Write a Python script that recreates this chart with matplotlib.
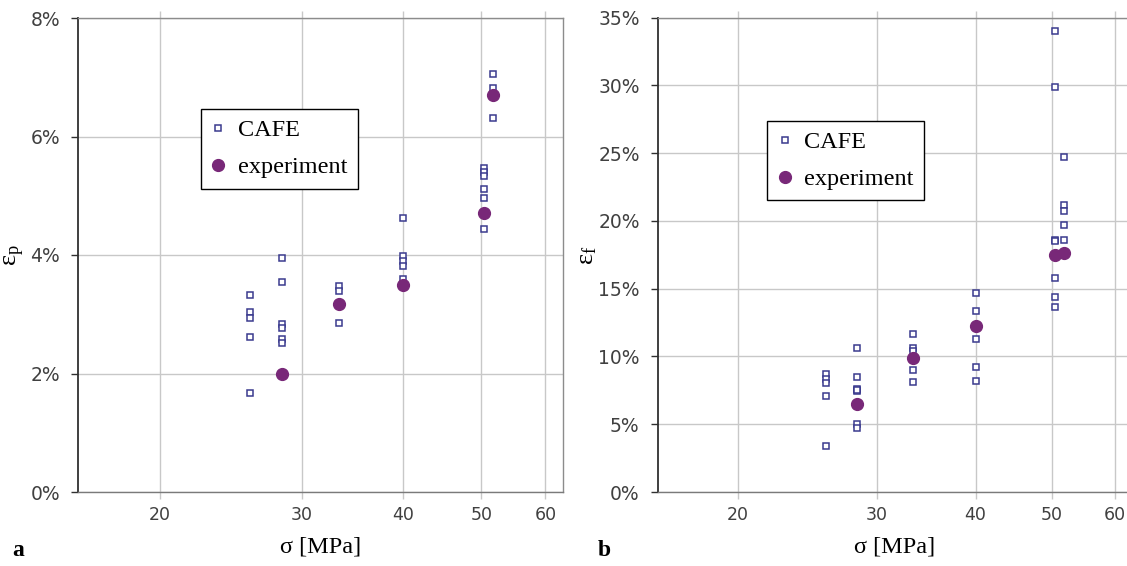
import matplotlib
matplotlib.use("Agg")
import matplotlib.pyplot as plt
from matplotlib.ticker import FixedLocator, FuncFormatter, NullLocator

# ---------------- data ----------------
# stress levels (MPa)
sigma_cafe_p = [25.9]*5 + [28.3]*6 + [33.3]*3 + [40.0]*5 + [50.4]*6 + [51.7]*3
eps_p_cafe = [3.32, 3.03, 2.93, 2.62, 1.67,
              3.95, 3.54, 2.83, 2.77, 2.58, 2.52,
              3.47, 3.40, 2.85,
              4.63, 3.98, 3.90, 3.82, 3.60,
              5.46, 5.40, 5.33, 5.11, 4.97, 4.44,
              7.05, 6.82, 6.31]
sigma_exp = [28.3, 33.3, 40.0, 50.4, 51.7]
eps_p_exp = [2.00, 3.17, 3.49, 4.71, 6.70]

sigma_cafe_f = [25.9]*5 + [28.3]*7 + [33.3]*5 + [40.0]*5 + [50.4]*7 + [51.7]*5
eps_f_cafe = [8.69, 8.34, 8.02, 7.08, 3.37,
              10.60, 8.49, 7.60, 7.45, 5.05, 4.75, 7.50,
              11.64, 10.65, 10.40, 9.00, 8.10,
              14.66, 13.33, 11.32, 9.20, 8.19,
              34.00, 29.90, 18.60, 15.77, 14.40, 13.65, 18.55,
              24.75, 21.20, 20.76, 19.70, 18.60]
eps_f_exp = [6.47, 9.91, 12.25, 17.50, 17.65]

x_ticks = [20, 30, 40, 50, 60]
y_ticks_p = [0, 2, 4, 6, 8]
y_ticks_f = [0, 5, 10, 15, 20, 25, 30, 35]

SQ_COLOR = "#3a3a8e"
EXP_COLOR = "#782878"
GRID = "#c8c8c8"

W, H = 1127, 566
fig = plt.figure(figsize=(W/100, H/100), dpi=100)
plt.rcParams['mathtext.fontset'] = 'custom'
plt.rcParams['mathtext.rm'] = 'Liberation Serif'
plt.rcParams['mathtext.it'] = 'Liberation Serif:italic'

def px_axes(x0, x1, ytop, ybot):
    return fig.add_axes([x0/W, 1-ybot/H, (x1-x0)/W, (ybot-ytop)/H])

axL = px_axes(78, 563, 18, 492)
axR = px_axes(657.7, 1132, 17.7, 492)

def style(ax, yticks, ymax, cafe_x, cafe_y, exp_x, exp_y, ylabel, ylab_x,
          leg_anchor, panel, panel_x):
    ax.set_xscale('log')
    ax.set_xlim(10**1.2, 10**1.8)
    ax.set_ylim(0, ymax)
    ax.xaxis.set_major_locator(FixedLocator(x_ticks))
    ax.xaxis.set_minor_locator(NullLocator())
    ax.xaxis.set_major_formatter(FuncFormatter(lambda v, p: f"{v:.0f}"))
    ax.yaxis.set_major_locator(FixedLocator(yticks))
    ax.yaxis.set_major_formatter(FuncFormatter(lambda v, p: f"{v:.0f}%"))
    ax.grid(True, color=GRID, linewidth=1.0)
    ax.set_axisbelow(True)
    for s in ['top', 'right']:
        ax.spines[s].set_color('#8c8c8c')
        ax.spines[s].set_linewidth(1.0)
    ax.spines['left'].set_color('#303030')
    ax.spines['left'].set_linewidth(1.3)
    ax.spines['bottom'].set_color('#7a7a7a')
    ax.spines['bottom'].set_linewidth(1.0)
    ax.tick_params(axis='x', which='major', top=True, bottom=True, direction='out',
                   length=5, width=1.0, color=GRID, pad=5, labelsize=12.5, labelcolor='#404040')
    ax.tick_params(axis='y', which='major', direction='out', length=5, width=1.0,
                   color='#303030', pad=8, labelsize=13.5, labelcolor='#404040')
    for t in ax.get_xticklabels() + ax.get_yticklabels():
        t.set_fontfamily('DejaVu Sans')
    ax.plot(cafe_x, cafe_y, linestyle='none', marker='s', markersize=5,
            markerfacecolor='white', markeredgecolor=SQ_COLOR, markeredgewidth=1.1,
            label='CAFE', zorder=3)
    ax.plot(exp_x, exp_y, linestyle='none', marker='o', markersize=8.5,
            markerfacecolor=EXP_COLOR, markeredgecolor=EXP_COLOR,
            label='experiment', zorder=4)
    ax.set_xlabel('σ [MPa]', fontfamily='Liberation Serif', fontsize=17.5)
    ax.xaxis.set_label_coords(0.5, -0.093)
    ax.set_ylabel(ylabel, fontsize=19)
    ax.yaxis.set_label_coords(ylab_x, 0.5)
    leg = ax.legend(loc='upper left', bbox_to_anchor=leg_anchor, frameon=True,
                    fancybox=False, edgecolor='black', framealpha=1,
                    prop={'family': 'Liberation Serif', 'size': 17.5},
                    handlelength=0.6, handletextpad=0.5, borderpad=0.42,
                    labelspacing=0.62, borderaxespad=0)
    leg.get_frame().set_linewidth(1.0)
    fig.text(panel_x/W, 1-550/H, panel, fontfamily='Liberation Serif',
             fontsize=17, fontweight='bold', ha='left', va='center')

style(axL, y_ticks_p, 8, sigma_cafe_p, eps_p_cafe, sigma_exp, eps_p_exp,
      r'$\mathrm{ε_p}$', -0.105, (0.2536, 0.808), 'a', 12)
style(axR, y_ticks_f, 35, sigma_cafe_f, eps_f_cafe, sigma_exp, eps_f_exp,
      r'$\mathrm{ε_f}$', -0.122, (0.2305, 0.7826), 'b', 598)

fig.savefig('out.png', dpi=100)
